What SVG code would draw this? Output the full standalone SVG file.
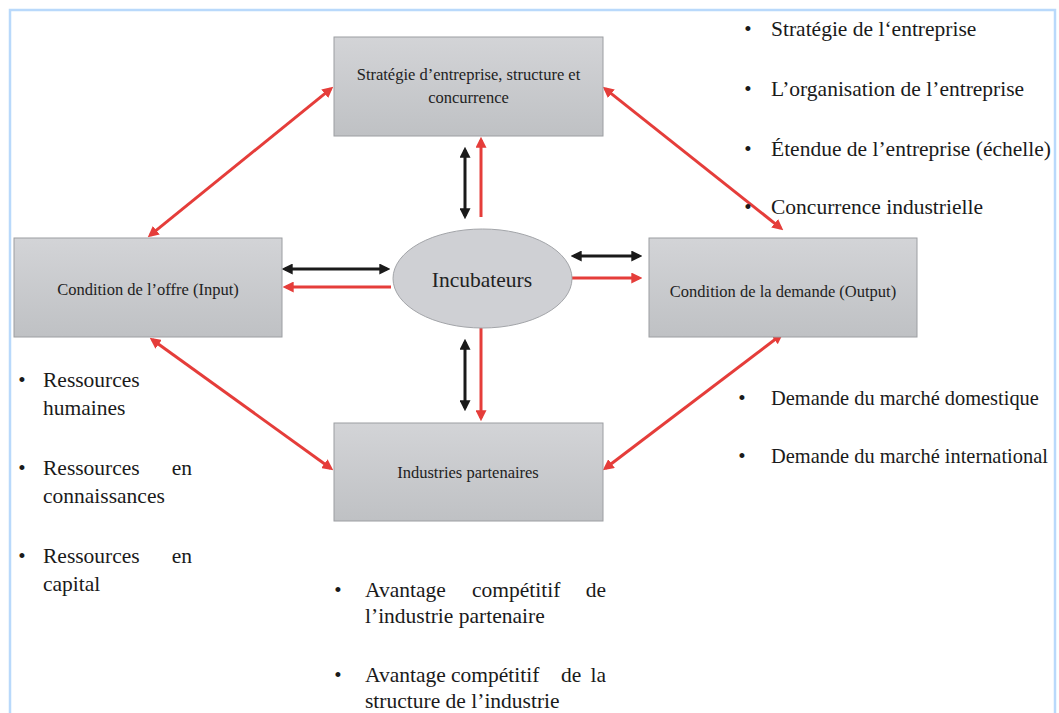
<svg xmlns="http://www.w3.org/2000/svg" width="1059" height="713" viewBox="0 0 1059 713">
<style>
.box{fill:url(#g);stroke:#9c9ea2;stroke-width:1}
.bt{font-family:'Liberation Serif','DejaVu Serif',serif;font-size:16.5px;fill:#222;text-anchor:middle}
.bl{font-family:'Liberation Serif','DejaVu Serif',serif;font-size:21.5px;fill:#1a1a1a}
.bu{font-family:'Liberation Serif','DejaVu Serif',serif;font-size:21px;fill:#1a1a1a;text-anchor:middle}
.r{stroke:#e53d3a;stroke-width:3;fill:none}
.k{stroke:#1a1a1a;stroke-width:3;fill:none}
.rr{marker-start:url(#mr);marker-end:url(#mr)}
.re{marker-end:url(#mr)}
.kk{marker-start:url(#mk);marker-end:url(#mk)}
</style>
<defs>
<linearGradient id="g" x1="0" y1="0" x2="0" y2="1">
<stop offset="0" stop-color="#d3d4d7"/>
<stop offset="1" stop-color="#bfc1c4"/>
</linearGradient>
<marker id="mr" viewBox="0 0 10 10" refX="7" refY="5" markerWidth="11" markerHeight="11" markerUnits="userSpaceOnUse" orient="auto-start-reverse">
<path d="M0,0 L10,5 L0,10 z" fill="#e53d3a"/>
</marker>
<marker id="mk" viewBox="0 0 10 10" refX="7" refY="5" markerWidth="11" markerHeight="11" markerUnits="userSpaceOnUse" orient="auto-start-reverse">
<path d="M0,0 L10,5 L0,10 z" fill="#1a1a1a"/>
</marker>
</defs>
<rect x="0" y="0" width="1059" height="713" fill="#fff"/>
<rect id="frame" x="10" y="10" width="1045" height="720" fill="none" stroke="#b9d9fb" stroke-width="2.5"/>

<g id="connectors">
<line class="k kk" x1="465" y1="150" x2="465" y2="216"/>
<line class="r re" x1="481" y1="217" x2="481" y2="140"/>
<line class="k kk" x1="465" y1="342" x2="465" y2="408"/>
<line class="r re" x1="481" y1="328" x2="481" y2="418"/>
<line class="k kk" x1="574" y1="256" x2="639" y2="256"/>
<line class="r re" x1="572" y1="278" x2="639" y2="278"/>
<line class="k kk" x1="285" y1="269" x2="387" y2="269"/>
<line class="r re" x1="391" y1="287" x2="286" y2="287"/>
<line class="r rr" x1="150.3" y1="235.1" x2="330.7" y2="88.9"/>
<line class="r rr" x1="605.3" y1="88.9" x2="780.7" y2="228.1"/>
<line class="r rr" x1="152.4" y1="339.8" x2="330.6" y2="468.2"/>
<line class="r rr" x1="605.4" y1="468.2" x2="780.6" y2="335.2"/>
</g>

<g id="node-strategie">
<rect class="box" x="334" y="37" width="269" height="99"/>
<text class="bt" x="468.5" y="80">Stratégie d’entreprise, structure et</text>
<text class="bt" x="468.5" y="103">concurrence</text>
</g>
<g id="node-offre">
<rect class="box" x="14" y="238" width="268" height="99"/>
<text class="bt" x="148" y="295">Condition de l’offre (Input)</text>
</g>
<g id="node-demande">
<rect class="box" x="649" y="238" width="268" height="99"/>
<text class="bt" x="783" y="297">Condition de la demande (Output)</text>
</g>
<g id="node-industries">
<rect class="box" x="334" y="423" width="269" height="98"/>
<text class="bt" x="468" y="478">Industries partenaires</text>
</g>
<g id="node-incubateurs">
<ellipse cx="482.5" cy="278.5" rx="89.5" ry="49.5" fill="#cfd0d4" stroke="#a3a5a9" stroke-width="1"/>
<text class="bt" x="482" y="287" style="font-size:21.5px">Incubateurs</text>
</g>

<g id="list-strategie">
<text class="bu" x="748" y="36">•</text><text class="bl" x="771" y="36">Stratégie de l‘entreprise</text>
<text class="bu" x="748" y="96">•</text><text class="bl" x="771" y="96">L’organisation de l’entreprise</text>
<text class="bu" x="748" y="156">•</text><text class="bl" x="771" y="156">Étendue de l’entreprise (échelle)</text>
<text class="bu" x="748" y="214">•</text><text class="bl" x="771" y="214">Concurrence industrielle</text>
</g>
<g id="list-demande">
<text class="bu" x="742" y="405">•</text><text class="bl" x="771" y="405" style="font-size:20.4px">Demande du marché domestique</text>
<text class="bu" x="742" y="463">•</text><text class="bl" x="771" y="463" style="font-size:20.4px">Demande du marché international</text>
</g>
<g id="list-offre">
<text class="bu" x="22" y="387">•</text><text class="bl" x="43" y="387">Ressources</text>
<text class="bl" x="43" y="415">humaines</text>
<text class="bu" x="22" y="475">•</text><text class="bl" x="43" y="475">Ressources</text><text class="bl" x="192" y="475" text-anchor="end">en</text>
<text class="bl" x="43" y="503">connaissances</text>
<text class="bu" x="22" y="563">•</text><text class="bl" x="43" y="563">Ressources</text><text class="bl" x="192" y="563" text-anchor="end">en</text>
<text class="bl" x="43" y="591">capital</text>
</g>
<g id="list-industries">
<text class="bu" x="338" y="597">•</text><text class="bl" x="365" y="597">Avantage</text><text class="bl" x="472" y="597">compétitif</text><text class="bl" x="606" y="597" text-anchor="end">de</text>
<text class="bl" x="365" y="623">l’industrie partenaire</text>
<text class="bu" x="338" y="682">•</text><text class="bl" x="365" y="682">Avantage</text><text class="bl" x="451" y="682">compétitif</text><text class="bl" x="561" y="682">de</text><text class="bl" x="606" y="682" text-anchor="end">la</text>
<text class="bl" x="365" y="708">structure de l’industrie</text>
</g>
</svg>
